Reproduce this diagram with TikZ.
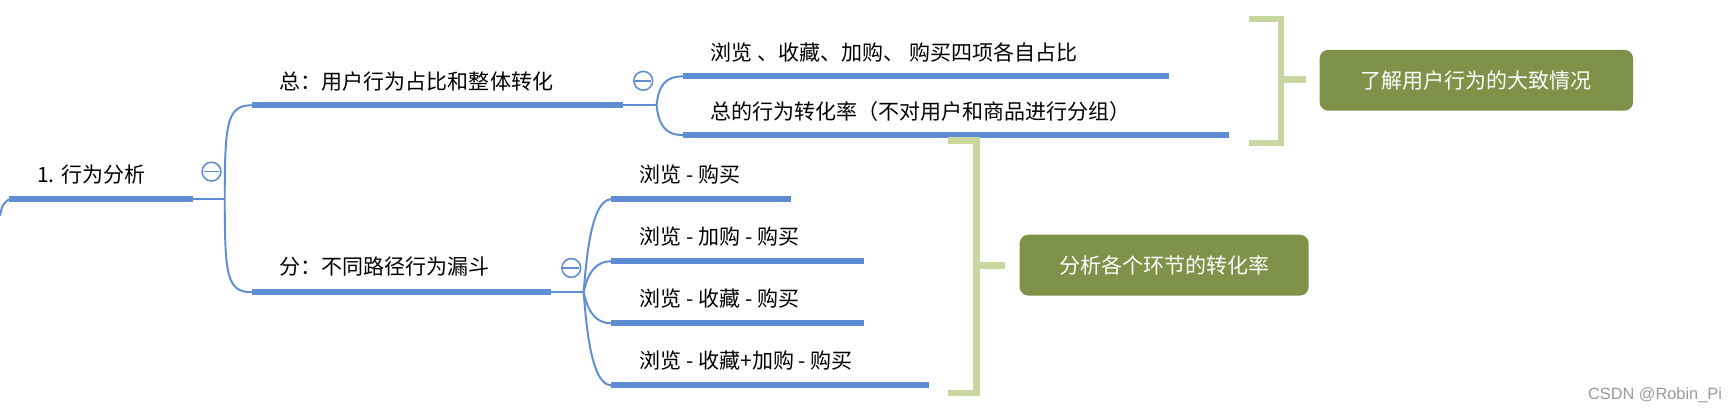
\documentclass[tikz,border=0pt]{standalone}
\usepackage{fontspec}
\setmainfont{Noto Sans CJK SC}
\newfontfamily\wm{Liberation Sans}
\begin{document}
\begin{tikzpicture}[x=0.01cm,y=-0.01cm,
  curv/.style={draw=blueA,line width=0.5pt},
  lbl/.style={anchor=west,inner sep=0,font=\fontsize{5.4pt}{6pt}\selectfont},
  tog/.style={circle,draw=blueA,line width=0.4pt,minimum size=0.17cm,inner sep=0,fill=white},
  brk/.style={draw=greenL,line width=1.7pt},
  gbox/.style={fill=greenD,rounded corners=0.08cm,text=white,font=\fontsize{5.4pt}{6pt}\selectfont,inner sep=0}]
\definecolor{blueA}{HTML}{5F8DD3}
\definecolor{greenL}{HTML}{C8D6A0}
\definecolor{greenD}{HTML}{7F9249}
\useasboundingbox (0,0) rectangle (1568,376);
\tikzset{bar/.style={draw=blueA,line width=1.5pt}}
% root
\coordinate (r0) at (8,180); \coordinate (r1) at (174,180); \coordinate (rj) at (203,180);
\draw[bar] (r0) -- (r1);
\draw[curv] (0,195) .. controls (2,185) .. (r0);
\draw[curv] (r1) -- (rj);
\node[lbl] (rt) at (33,158) {1. 行为分析};
\node[tog] (t0) at (191,155) {}; \draw[blueA,line width=0.4pt] ([xshift=-2]t0.center) -- ([xshift=2]t0.center);
% level1
\coordinate (a0) at (228,95); \coordinate (a1) at (563,95); \coordinate (aj) at (593,95);
\coordinate (b0) at (228,264); \coordinate (b1) at (498,264); \coordinate (bj) at (527,264);
\draw[curv] (rj) .. controls (203,110) and (205,95) .. (a0);
\draw[curv] (rj) .. controls (203,250) and (205,264) .. (b0);
\draw[bar] (a0) -- (a1); \draw[bar] (b0) -- (b1);
\draw[curv] (a1) -- (aj); \draw[curv] (b1) -- (bj);
\node[lbl] (at) at (252,74) {总：用户行为占比和整体转化};
\node[lbl] (bt) at (252,241) {分：不同路径行为漏斗};
\node[tog] (t1) at (581,73) {}; \draw[blueA,line width=0.4pt] ([xshift=-2]t1.center) -- ([xshift=2]t1.center);
\node[tog] (t2) at (516,242) {}; \draw[blueA,line width=0.4pt] ([xshift=-2]t2.center) -- ([xshift=2]t2.center);
% level2 top
\coordinate (c0) at (617,69); \coordinate (c1) at (1056,69);
\coordinate (d0) at (617,122); \coordinate (d1) at (1110,122);
\draw[curv] (aj) .. controls (595,78) and (600,69) .. (c0);
\draw[curv] (aj) .. controls (595,112) and (600,122) .. (d0);
\draw[bar] (c0) -- (c1); \draw[bar] (d0) -- (d1);
\node[lbl] (ct) at (641,47) {浏览 、收藏、加购、 购买四项各自占比};
\node[lbl] (dt) at (641,101) {总的行为转化率（不对用户和商品进行分组）};
% level2 bottom
\foreach \y/\e/\t [count=\i] in {180/714/浏览 - 购买, 236/780/浏览 - 加购 - 购买, 292/780/浏览 - 收藏 - 购买, 348/839/浏览 - 收藏+加购 - 购买}{
  \coordinate (e\i) at (552,\y); \coordinate (f\i) at (\e,\y);
  \draw[curv] (bj) .. controls (529,{264+(\y-264)*0.2}) and (532,\y) .. (e\i);
  \draw[bar] (e\i) -- (f\i);
  \node[lbl] (et\i) at (577,\y-22) {\t};
}
% brackets
\draw[brk] (1128,17) -- (1157,17) -- (1157,129) -- (1128,129);
\draw[brk] (1157,72) -- (1180,72);
\draw[brk] (856,127) -- (882,127) -- (882,355) -- (856,355);
\draw[brk] (882,240) -- (908,240);
\node[gbox,minimum width=2.83cm,minimum height=0.55cm] (g1) at (1333.5,72.5) {了解用户行为的大致情况};
\node[gbox,minimum width=2.61cm,minimum height=0.55cm] (g2) at (1051.5,239.5) {分析各个环节的转化率};
\node[anchor=east,inner sep=0,text=gray!80,font=\wm\fontsize{4.2pt}{5pt}\selectfont] (wm) at (1556,357) {CSDN @Robin\_Pi};
\end{tikzpicture}
\end{document}
